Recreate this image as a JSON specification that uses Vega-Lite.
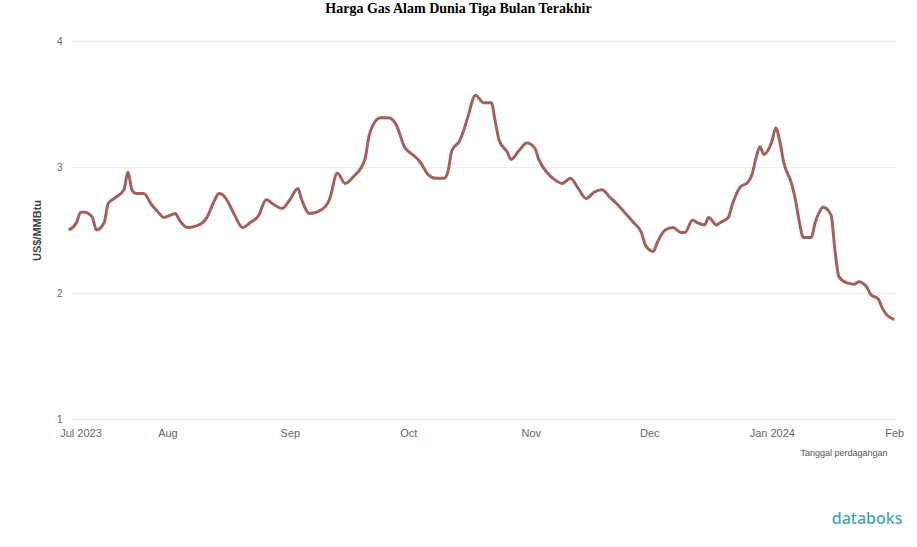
{
  "$schema": "https://vega.github.io/schema/vega-lite/v6.json",
  "autosize": "none",
  "width": 827,
  "height": 378,
  "padding": {"left": 70, "top": 41, "right": 20, "bottom": 128},
  "background": "white",
  "title": {
    "text": "Harga Gas Alam Dunia Tiga Bulan Terakhir",
    "font": "Liberation Serif",
    "fontSize": 14,
    "fontWeight": "bold",
    "color": "#000000",
    "anchor": "middle",
    "frame": "group",
    "dx": -25,
    "offset": 20
  },
  "config": {"view": {"stroke": null}},
  "data": {
    "values": [
      {"date": "2023-07-07", "price": 2.50},
      {"date": "2023-07-09", "price": 2.56},
      {"date": "2023-07-10", "price": 2.64},
      {"date": "2023-07-11", "price": 2.64},
      {"date": "2023-07-13", "price": 2.60},
      {"date": "2023-07-14", "price": 2.50},
      {"date": "2023-07-16", "price": 2.56},
      {"date": "2023-07-17", "price": 2.71},
      {"date": "2023-07-19", "price": 2.76},
      {"date": "2023-07-21", "price": 2.82},
      {"date": "2023-07-22", "price": 2.96},
      {"date": "2023-07-23", "price": 2.82},
      {"date": "2023-07-24", "price": 2.79},
      {"date": "2023-07-26", "price": 2.79},
      {"date": "2023-07-28", "price": 2.70},
      {"date": "2023-07-30", "price": 2.63},
      {"date": "2023-07-31", "price": 2.60},
      {"date": "2023-08-02", "price": 2.62},
      {"date": "2023-08-03", "price": 2.63},
      {"date": "2023-08-04", "price": 2.58},
      {"date": "2023-08-06", "price": 2.52},
      {"date": "2023-08-08", "price": 2.53},
      {"date": "2023-08-10", "price": 2.56},
      {"date": "2023-08-11", "price": 2.60},
      {"date": "2023-08-13", "price": 2.74},
      {"date": "2023-08-14", "price": 2.79},
      {"date": "2023-08-15", "price": 2.78},
      {"date": "2023-08-16", "price": 2.74},
      {"date": "2023-08-18", "price": 2.62},
      {"date": "2023-08-20", "price": 2.52},
      {"date": "2023-08-22", "price": 2.56},
      {"date": "2023-08-24", "price": 2.61},
      {"date": "2023-08-26", "price": 2.74},
      {"date": "2023-08-28", "price": 2.70},
      {"date": "2023-08-30", "price": 2.67},
      {"date": "2023-09-01", "price": 2.74},
      {"date": "2023-09-03", "price": 2.83},
      {"date": "2023-09-04", "price": 2.74},
      {"date": "2023-09-06", "price": 2.63},
      {"date": "2023-09-09", "price": 2.66},
      {"date": "2023-09-11", "price": 2.74},
      {"date": "2023-09-13", "price": 2.95},
      {"date": "2023-09-15", "price": 2.87},
      {"date": "2023-09-17", "price": 2.92},
      {"date": "2023-09-20", "price": 3.06},
      {"date": "2023-09-21", "price": 3.24},
      {"date": "2023-09-22", "price": 3.33},
      {"date": "2023-09-24", "price": 3.39},
      {"date": "2023-09-26", "price": 3.39},
      {"date": "2023-09-28", "price": 3.33},
      {"date": "2023-09-30", "price": 3.16},
      {"date": "2023-10-02", "price": 3.10},
      {"date": "2023-10-04", "price": 3.04},
      {"date": "2023-10-06", "price": 2.94},
      {"date": "2023-10-08", "price": 2.91},
      {"date": "2023-10-10", "price": 2.91},
      {"date": "2023-10-11", "price": 2.96},
      {"date": "2023-10-12", "price": 3.13},
      {"date": "2023-10-14", "price": 3.21},
      {"date": "2023-10-15", "price": 3.29},
      {"date": "2023-10-16", "price": 3.39},
      {"date": "2023-10-18", "price": 3.57},
      {"date": "2023-10-20", "price": 3.51},
      {"date": "2023-10-22", "price": 3.51},
      {"date": "2023-10-23", "price": 3.36},
      {"date": "2023-10-24", "price": 3.21},
      {"date": "2023-10-26", "price": 3.12},
      {"date": "2023-10-27", "price": 3.06},
      {"date": "2023-10-29", "price": 3.13},
      {"date": "2023-10-31", "price": 3.19},
      {"date": "2023-11-02", "price": 3.15},
      {"date": "2023-11-03", "price": 3.06},
      {"date": "2023-11-05", "price": 2.96},
      {"date": "2023-11-07", "price": 2.90},
      {"date": "2023-11-09", "price": 2.87},
      {"date": "2023-11-11", "price": 2.91},
      {"date": "2023-11-13", "price": 2.83},
      {"date": "2023-11-15", "price": 2.75},
      {"date": "2023-11-17", "price": 2.80},
      {"date": "2023-11-19", "price": 2.82},
      {"date": "2023-11-21", "price": 2.76},
      {"date": "2023-11-23", "price": 2.70},
      {"date": "2023-11-25", "price": 2.63},
      {"date": "2023-11-27", "price": 2.56},
      {"date": "2023-11-29", "price": 2.48},
      {"date": "2023-11-30", "price": 2.38},
      {"date": "2023-12-02", "price": 2.33},
      {"date": "2023-12-03", "price": 2.40},
      {"date": "2023-12-05", "price": 2.50},
      {"date": "2023-12-07", "price": 2.52},
      {"date": "2023-12-09", "price": 2.48},
      {"date": "2023-12-10", "price": 2.48},
      {"date": "2023-12-12", "price": 2.58},
      {"date": "2023-12-13", "price": 2.56},
      {"date": "2023-12-15", "price": 2.54},
      {"date": "2023-12-16", "price": 2.60},
      {"date": "2023-12-18", "price": 2.54},
      {"date": "2023-12-19", "price": 2.56},
      {"date": "2023-12-21", "price": 2.60},
      {"date": "2023-12-22", "price": 2.70},
      {"date": "2023-12-24", "price": 2.84},
      {"date": "2023-12-26", "price": 2.88},
      {"date": "2023-12-27", "price": 2.94},
      {"date": "2023-12-28", "price": 3.07},
      {"date": "2023-12-29", "price": 3.16},
      {"date": "2023-12-30", "price": 3.10},
      {"date": "2024-01-01", "price": 3.20},
      {"date": "2024-01-02", "price": 3.31},
      {"date": "2024-01-03", "price": 3.21},
      {"date": "2024-01-04", "price": 3.04},
      {"date": "2024-01-06", "price": 2.87},
      {"date": "2024-01-07", "price": 2.74},
      {"date": "2024-01-08", "price": 2.56},
      {"date": "2024-01-09", "price": 2.44},
      {"date": "2024-01-11", "price": 2.44},
      {"date": "2024-01-12", "price": 2.56},
      {"date": "2024-01-13", "price": 2.64},
      {"date": "2024-01-14", "price": 2.68},
      {"date": "2024-01-16", "price": 2.62},
      {"date": "2024-01-17", "price": 2.34},
      {"date": "2024-01-18", "price": 2.13},
      {"date": "2024-01-20", "price": 2.08},
      {"date": "2024-01-22", "price": 2.07},
      {"date": "2024-01-23", "price": 2.09},
      {"date": "2024-01-25", "price": 2.05},
      {"date": "2024-01-26", "price": 1.99},
      {"date": "2024-01-28", "price": 1.95},
      {"date": "2024-01-29", "price": 1.88},
      {"date": "2024-01-30", "price": 1.83},
      {"date": "2024-02-01", "price": 1.79}
    ]
  },
  "layer": [
    {
      "mark": {"type": "line", "color": "#a5605b", "strokeWidth": 3, "interpolate": "monotone"},
      "encoding": {
        "x": {
          "field": "date",
          "type": "temporal",
          "scale": {"domain": ["2023-07-07T08:00:00", "2024-02-01T17:00:00"]},
          "axis": {
            "orient": "bottom",
            "values": ["2023-07-10T00:00:00", "2023-08-01T00:00:00", "2023-09-01T00:00:00", "2023-10-01T00:00:00", "2023-11-01T00:00:00", "2023-12-01T00:00:00", "2024-01-01T00:00:00", "2024-02-01T00:00:00"],
            "labelExpr": "(month(datum.value) == 0 || month(datum.value) == 6) ? timeFormat(datum.value, '%b %Y') : timeFormat(datum.value, '%b')",
            "labelFlush": false,
            "labelFont": "Liberation Sans",
            "labelFontSize": 11,
            "labelColor": "#666666",
            "labelPadding": 8,
            "ticks": false,
            "domain": false,
            "grid": false,
            "title": "Tanggal perdagangan",
            "titleFont": "Liberation Sans",
            "titleFontSize": 9,
            "titleFontWeight": "normal",
            "titleColor": "#555555",
            "titleAnchor": "end",
            "titleAlign": "right",
            "titleX": 817,
            "titleY": 33,
            "titleBaseline": "middle"
          }
        },
        "y": {
          "field": "price",
          "type": "quantitative",
          "scale": {"domain": [1, 4], "nice": false, "zero": false},
          "axis": {
            "values": [1, 2, 3, 4],
            "format": "d",
            "labelFont": "Liberation Sans",
            "labelFontSize": 10,
            "labelColor": "#666666",
            "labelPadding": 8,
            "ticks": false,
            "domain": false,
            "grid": true,
            "gridColor": "#eeeeee",
            "gridWidth": 1,
            "title": "US$/MMBtu",
            "titleFont": "Liberation Sans",
            "titleFontSize": 11,
            "titleFontWeight": "bold",
            "titleColor": "#444444",
            "titlePadding": 14
          }
        }
      }
    },
    {
      "mark": {"type": "line", "strokeOpacity": 0},
      "encoding": {
        "x": {
          "field": "date",
          "type": "temporal",
          "axis": {
            "orient": "bottom",
            "labels": false,
            "ticks": false,
            "domain": false,
            "grid": false,
            "title": "databoks",
            "titleFont": "Noto Sans",
            "titleFontSize": 16,
            "titleFontWeight": 500,
            "titleColor": "#3fa9a3",
            "titleAnchor": "end",
            "titleAlign": "right",
            "titleX": 832,
            "titleY": 99,
            "titleBaseline": "middle"
          }
        },
        "y": {"field": "price", "type": "quantitative"}
      }
    }
  ],
  "resolve": {"axis": {"x": "independent"}}
}
